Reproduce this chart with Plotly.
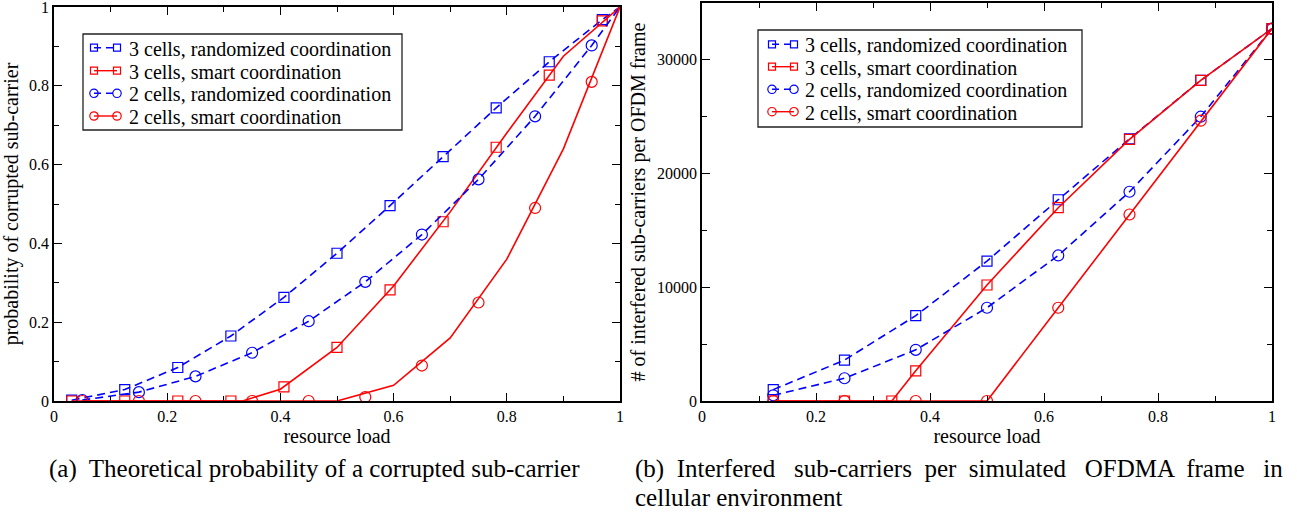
import plotly.graph_objects as go

# ---------------- data: (a) theoretical probability ----------------
x_a3 = [0.03125, 0.125, 0.21875, 0.3125, 0.40625, 0.5, 0.59375, 0.6875, 0.78125, 0.875, 0.96875]
a_rand3 = [0.002, 0.029, 0.085, 0.165, 0.263, 0.375, 0.496, 0.620, 0.744, 0.861, 0.968]
a_smart3 = [0, 0, 0, 0, 0.036, 0.136, 0.282, 0.455, 0.644, 0.827, 0.965]
x_a2 = [0.05, 0.15, 0.25, 0.35, 0.45, 0.55, 0.65, 0.75, 0.85, 0.95]
a_rand2 = [0.0025, 0.0225, 0.0625, 0.1225, 0.2025, 0.3025, 0.4225, 0.5625, 0.7225, 0.9025]
a_smart2 = [0, 0, 0, 0, 0, 0.01, 0.09, 0.25, 0.49, 0.81]

# curve samples (lines) for (a)
la_rand3_x = x_a3 + [1.0]
la_rand3_y = a_rand3 + [1.0]
la_smart3_x = [0.03125, 0.333, 0.4, 0.5, 0.6, 0.7, 0.8, 0.9, 1.0]
la_smart3_y = [0, 0, 0.03, 0.136, 0.292, 0.48, 0.68, 0.875, 1.0]
la_rand2_x = x_a2 + [1.0]
la_rand2_y = a_rand2 + [1.0]
la_smart2_x = [0.05, 0.5, 0.6, 0.7, 0.8, 0.9, 1.0]
la_smart2_y = [0, 0, 0.04, 0.16, 0.36, 0.64, 1.0]

# ---------------- data: (b) simulated interfered sub-carriers ----------------
x_b = [0.125, 0.25, 0.375, 0.5, 0.625, 0.75, 0.875, 1.0]
b_rand3 = [1000, 3600, 7500, 12300, 17700, 23050, 28200, 32750]
b_rand2 = [500, 2000, 4500, 8200, 12800, 18400, 25000, 32750]
x_b_smart3 = [0.125, 0.25, 0.333, 0.375, 0.5, 0.625, 0.75, 0.875, 1.0]
b_smart3 = [0, 0, 0, 2650, 10200, 17000, 23000, 28200, 32750]
b_smart2 = [0, 0, 0, 0, 8200, 16400, 24650, 32750]

x_ticks = [0, 0.2, 0.4, 0.6, 0.8, 1]
x_ticklabels = ["0", "0.2", "0.4", "0.6", "0.8", "1"]
ya_ticks = [0, 0.2, 0.4, 0.6, 0.8, 1]
ya_ticklabels = ["0", "0.2", "0.4", "0.6", "0.8", "1"]
yb_ticks = [0, 10000, 20000, 30000]
yb_ticklabels = ["0", "10000", "20000", "30000"]

names = ["3 cells, randomized coordination", "3 cells, smart coordination",
         "2 cells, randomized coordination", "2 cells, smart coordination"]

BLUE = "#0000ff"
RED = "#ff0000"
FONT = "Liberation Serif, Times New Roman, DejaVu Serif, serif"
DASH = "8px,5px"

series_style = [(BLUE, DASH, "square"), (RED, "solid", "square"),
                (BLUE, DASH, "circle"), (RED, "solid", "circle")]

fig = go.Figure()

def add_series(xl, yl, xm, ym, style, xa, ya, name):
    color, dash, sym = style
    fig.add_trace(go.Scatter(x=xl, y=yl, mode="lines", xaxis=xa, yaxis=ya, name=name,
                             line=dict(color=color, width=1.6, dash=dash),
                             showlegend=False, hoverinfo="skip"))
    fig.add_trace(go.Scatter(x=xm, y=ym, mode="markers", xaxis=xa, yaxis=ya, name=name,
                             marker=dict(symbol=sym + "-open", size=11 if sym == "circle" else 10,
                                         color=color, line=dict(color=color, width=1.2)),
                             showlegend=False))

# (a)
add_series(la_rand3_x, la_rand3_y, x_a3, a_rand3, series_style[0], "x", "y", names[0])
add_series(la_smart3_x, la_smart3_y, x_a3, a_smart3, series_style[1], "x", "y", names[1])
add_series(la_rand2_x, la_rand2_y, x_a2, a_rand2, series_style[2], "x", "y", names[2])
add_series(la_smart2_x, la_smart2_y, x_a2, a_smart2, series_style[3], "x", "y", names[3])

# (b)
add_series(x_b, b_rand3, x_b, b_rand3, series_style[0], "x2", "y2", names[0])
add_series(x_b_smart3, b_smart3, x_b_smart3, b_smart3, series_style[1], "x2", "y2", names[1])
add_series(x_b, b_rand2, x_b, b_rand2, series_style[2], "x2", "y2", names[2])
add_series(x_b, b_smart2, x_b, b_smart2, series_style[3], "x2", "y2", names[3])

W, H = 1297, 517
def px(v): return v / W
def py(v): return (H - v) / H

shapes = []
annotations = []

def add_legend(box, sx0, sx1, tx, rows):
    x0, y0, x1, y1 = box
    shapes.append(dict(type="rect", xref="paper", yref="paper",
                       x0=px(x0), x1=px(x1), y0=py(y1), y1=py(y0),
                       line=dict(color="#222", width=1.3), fillcolor="white", layer="above"))
    for (color, dash, sym), name, ry in zip(series_style, names, rows):
        shapes.append(dict(type="line", xref="paper", yref="paper",
                           x0=px(sx0), x1=px(sx1), y0=py(ry), y1=py(ry),
                           line=dict(color=color, width=1.4, dash="7px,5px" if dash != "solid" else "solid")))
        r = 3.5 if sym == "square" else 4.2
        for cx in (sx0, sx1):
            shapes.append(dict(type="rect" if sym == "square" else "circle",
                               xref="paper", yref="paper",
                               x0=px(cx - r), x1=px(cx + r), y0=py(ry + r), y1=py(ry - r),
                               line=dict(color=color, width=1.2)))
        annotations.append(dict(text=name, xref="paper", yref="paper", x=px(tx), y=py(ry + 1),
                                xanchor="left", yanchor="middle", showarrow=False,
                                font=dict(family=FONT, size=20, color="black")))

add_legend((83, 34, 402, 130), 94, 117, 127, [47.7, 70.7, 93.3, 116])
add_legend((758, 30, 1082, 127), 772, 794, 803, [44.3, 66.7, 89.3, 111.7])

annotations += [
    dict(text="(a)  Theoretical probability of a corrupted sub-carrier", xref="paper", yref="paper",
         x=px(314), y=py(469), xanchor="center", yanchor="middle", showarrow=False,
         font=dict(family=FONT, size=25, color="black")),
    dict(text="(b)  Interfered   sub-carriers  per  simulated   OFDMA  frame   in", xref="paper", yref="paper",
         x=px(633), y=py(469), xanchor="left", yanchor="middle", showarrow=False,
         font=dict(family=FONT, size=25, color="black")),
    dict(text="cellular environment", xref="paper", yref="paper",
         x=px(633), y=py(497), xanchor="left", yanchor="middle", showarrow=False,
         font=dict(family=FONT, size=25, color="black")),
]

axis_common = dict(showline=True, linecolor="black", linewidth=1.5, mirror="ticks",
                   ticks="inside", ticklen=8, tickwidth=1.2, tickcolor="black",
                   showgrid=False, zeroline=False, automargin=False,
                   ticklabeloverflow="allow",
                   tickfont=dict(family=FONT, size=16, color="black"),
                   title_font=dict(family=FONT, size=20, color="black"))

fig.update_layout(
    width=W, height=H, margin=dict(l=0, r=0, t=0, b=0, autoexpand=False),
    plot_bgcolor="white", paper_bgcolor="white", showlegend=False,
    font=dict(family=FONT, color="black"),
    xaxis=dict(domain=[px(54), px(620)], range=[0, 1], anchor="y",
               tickmode="array", tickvals=x_ticks, ticktext=x_ticklabels,
               minor=dict(dtick=0.1, ticks="inside", ticklen=5, tickcolor="black"),
               title=dict(text="resource load", standoff=2), **axis_common),
    yaxis=dict(domain=[py(401), py(7)], range=[0, 1], anchor="x",
               tickmode="array", tickvals=ya_ticks, ticktext=ya_ticklabels,
               minor=dict(dtick=0.1, ticks="inside", ticklen=5, tickcolor="black"),
               title=dict(text="probability of corrupted sub-carrier", standoff=6), **axis_common),
    xaxis2=dict(domain=[px(702), px(1272)], range=[0, 1], anchor="y2",
                tickmode="array", tickvals=x_ticks, ticktext=x_ticklabels,
                minor=dict(dtick=0.1, ticks="inside", ticklen=5, tickcolor="black"),
                title=dict(text="resource load", standoff=2), **axis_common),
    yaxis2=dict(domain=[py(401), py(3)], range=[0, 35000], anchor="x2",
                tickmode="array", tickvals=yb_ticks, ticktext=yb_ticklabels,
                minor=dict(dtick=5000, ticks="inside", ticklen=5, tickcolor="black"),
                title=dict(text="# of interfered sub-carriers per OFDM frame", standoff=6), **axis_common),
    shapes=shapes,
    annotations=annotations,
)

fig.write_html("out.html", config={"displayModeBar": False},
               post_script="document.body.style.margin='0';document.body.style.overflow='hidden';")
